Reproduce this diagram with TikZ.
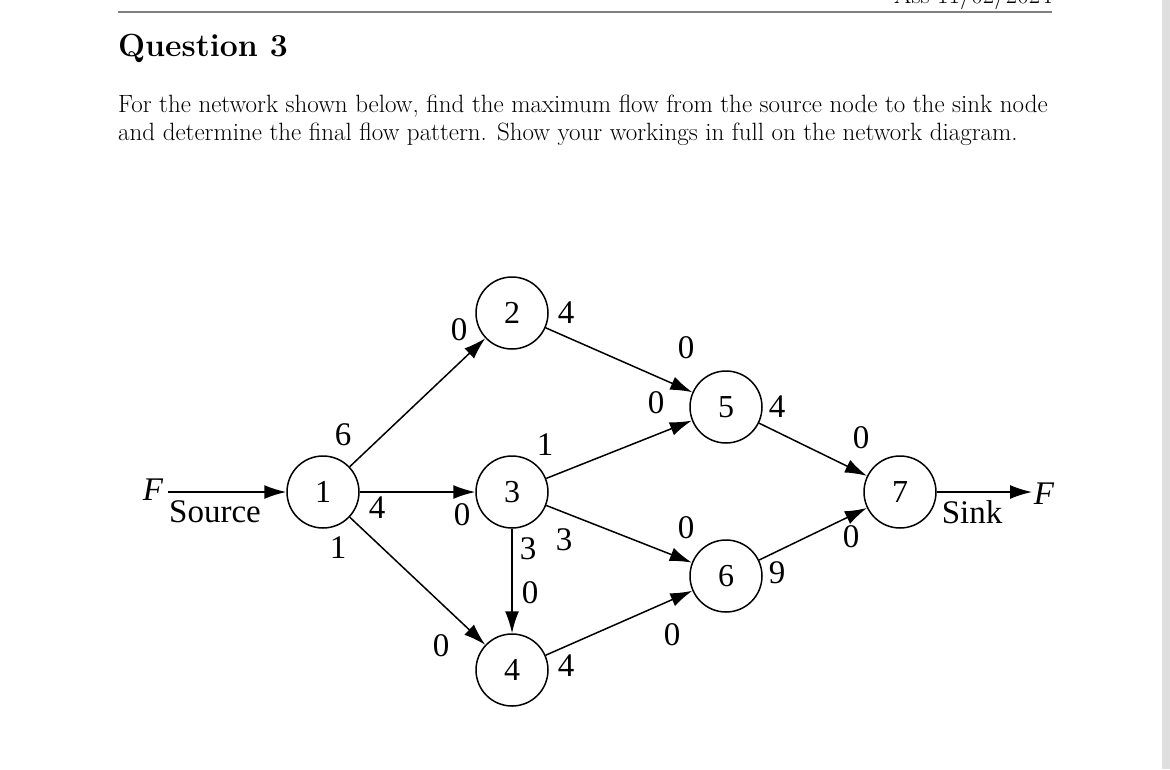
\documentclass[tikz,border=0pt]{standalone}
\usepackage{fontspec}
\newfontfamily\tms{Liberation Serif}
\usetikzlibrary{arrows.meta,positioning}

\tikzset{
  vertex/.style={circle, draw, line width=1.5pt, minimum size=72pt, inner sep=0pt, font=\tms\fontsize{32}{32}\selectfont},
  lab/.style={inner sep=0pt, font=\tms\fontsize{33}{33}\selectfont},
  arc/.style={line width=1.5pt, -{Latex[length=22pt,width=14pt]}}
}

\begin{document}
\begin{tikzpicture}[x=1pt,y=-1pt]
\useasboundingbox (0,0) rectangle (1170,769);
\fill[white] (0,0) rectangle (1170,769);
\fill[gray!25] (1162,0) rectangle (1170,769);

% header
\draw[gray, line width=2pt] (118,12) -- (1052,12);
\node[anchor=base east, inner sep=0pt, font=\fontsize{25}{25}\selectfont] (hdr) at (1052,3) {Ass 11/02/2024};
\node[anchor=base west, inner sep=0pt, font=\bfseries\fontsize{32}{32}\selectfont] (qn) at (118,56) {Question 3};
\node[anchor=base west, inner sep=0pt, font=\fontsize{25}{28}\selectfont] (txta) at (118,112) {For the network shown below, find the maximum flow from the source node to the sink node};
\node[anchor=base west, inner sep=0pt, font=\fontsize{25}{28}\selectfont] (txtb) at (118,140) {and determine the final flow pattern. Show your workings in full on the network diagram.};

% network
\node[vertex] (n1) at (323,492) {1};
\node[vertex] (n2) at (512,313) {2};
\node[vertex] (n3) at (512,492) {3};
\node[vertex] (n4) at (512,670) {4};
\node[vertex] (n5) at (726,407) {5};
\node[vertex] (n6) at (726,576) {6};
\node[vertex] (n7) at (900,492) {7};
\coordinate (fin) at (168,492);
\coordinate (fout) at (1032,492);

\draw[arc] (fin) -- (n1);
\draw[arc] (n7) -- (fout);
\draw[arc] (n1) -- (n2);
\draw[arc] (n1) -- (n3);
\draw[arc] (n1) -- (n4);
\draw[arc] (n2) -- (n5);
\draw[arc] (n3) -- (n5);
\draw[arc] (n3) -- (n6);
\draw[arc] (n3) -- (n4);
\draw[arc] (n4) -- (n6);
\draw[arc] (n5) -- (n7);
\draw[arc] (n6) -- (n7);

% flows
\node[lab, font=\tms\itshape\fontsize{33}{33}\selectfont] (fl) at (153,490) {F};
\node[lab] (src) at (215,512) {Source};
\node[lab] (snk) at (972,512) {Sink};
\node[lab, font=\tms\itshape\fontsize{33}{33}\selectfont] (fr) at (1044,494) {F};
\node[lab] (l12) at (343,435) {6};
\node[lab] (l13) at (377,508) {4};
\node[lab] (l14) at (338,548) {1};
\node[lab] (l21) at (459,330) {0};
\node[lab] (l25) at (566,313) {4};
\node[lab] (l31) at (462,515) {0};
\node[lab] (l35) at (545,445) {1};
\node[lab] (l34) at (528,549) {3};
\node[lab] (l36) at (564,540) {3};
\node[lab] (l43) at (530,593) {0};
\node[lab] (l41) at (441,646) {0};
\node[lab] (l46) at (566,666) {4};
\node[lab] (l52) at (686,348) {0};
\node[lab] (l53) at (656,403) {0};
\node[lab] (l57) at (777,407) {4};
\node[lab] (l63) at (686,528) {0};
\node[lab] (l64) at (672,635) {0};
\node[lab] (l67) at (777,573) {9};
\node[lab] (l75) at (861,438) {0};
\node[lab] (l76) at (851,537) {0};
\end{tikzpicture}
\end{document}
